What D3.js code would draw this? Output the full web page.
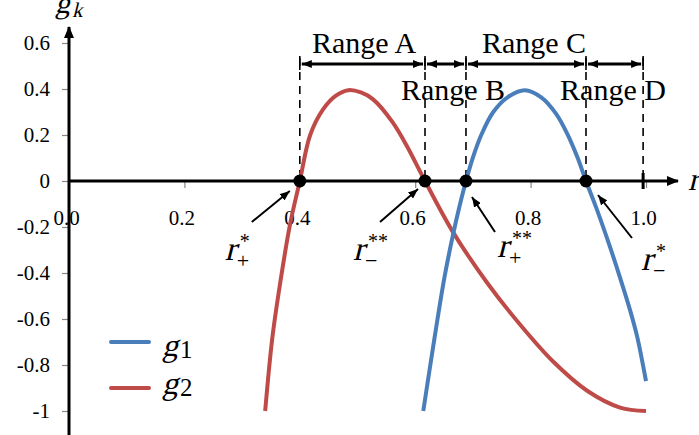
<!DOCTYPE html>
<meta charset="utf-8">
<style>
body { margin: 0; background: #fff; }
.tick line { stroke: #888; stroke-width: 1.2; }
</style>
<body>
<script src="https://d3js.org/d3.v7.min.js"></script>
<script>

// tick labels
var yTicks = [0.6, 0.4, 0.2, 0, -0.2, -0.4, -0.6, -0.8, -1];
var xTicks = [0.0, 0.2, 0.4, 0.6, 0.8, 1.0];

// g1 (blue)
var g1R = [0.614, 0.626, 0.638, 0.651, 0.665, 0.677, 0.688, 0.700, 0.715, 0.735, 0.760, 0.790, 0.819, 0.844, 0.864, 0.881, 0.896, 0.914, 0.937, 0.955, 0.972, 0.985, 1.000];
var g1V = [-1.0, -0.803, -0.611, -0.415, -0.240, -0.108, 0.0, 0.102, 0.203, 0.299, 0.364, 0.395, 0.363, 0.293, 0.203, 0.104, 0.0, -0.118, -0.282, -0.42, -0.558, -0.68, -0.87];

// g2 (red)
var g2R = [0.340, 0.352, 0.365, 0.383, 0.400, 0.418, 0.440, 0.462, 0.484, 0.506, 0.527, 0.561, 0.586, 0.617, 0.665, 0.724, 0.782, 0.839, 0.898, 0.955, 1.000];
var g2V = [-1.0, -0.69, -0.46, -0.19, 0.0, 0.20, 0.31, 0.37, 0.395, 0.385, 0.355, 0.255, 0.15, 0.0, -0.22, -0.44, -0.625, -0.785, -0.912, -0.985, -1.0];

// zero crossings and ranges
var roots = [0.4, 0.617, 0.688, 0.896];
var rangeBounds = [0.4, 0.617, 0.688, 0.896, 0.995];
var rangeNames = ["Range A", "Range B", "Range C", "Range D"];
var rootSub = ["+", "\u2212", "+", "\u2212"];
var rootSup = ["*", "**", "**", "*"];

var w = 699, h = 435;
var blue = "#4a7ebb", red = "#be4b48";
var serif = "Liberation Serif";

var svg = d3.select("body").append("svg")
    .attr("width", w)
    .attr("height", h);

var x = d3.scaleLinear().domain([0, 1]).range([69, 646]);
var y = d3.scaleLinear().domain([-1, 0.6]).range([411, 43]);

// slant the upright serif face for the math letters
function ital(sel, px, py, size, str) {
  return sel.append("text")
      .attr("transform", "translate(" + px + "," + py + ") skewX(-14)")
      .attr("font-family", serif)
      .attr("font-size", size)
      .text(str);
}
function plain(sel, px, py, size, str) {
  return sel.append("text")
      .attr("x", px).attr("y", py)
      .attr("font-family", serif)
      .attr("font-size", size)
      .text(str);
}

var defs = svg.append("defs");
defs.append("marker")
    .attr("id", "head")
    .attr("viewBox", "0 0 10 8")
    .attr("refX", 10).attr("refY", 4)
    .attr("markerWidth", 10).attr("markerHeight", 8)
    .attr("markerUnits", "userSpaceOnUse")
    .attr("orient", "auto-start-reverse")
  .append("path").attr("d", "M0,0L10,4L0,8z").attr("fill", "#000");
defs.append("marker")
    .attr("id", "bighead")
    .attr("viewBox", "0 0 12 10")
    .attr("refX", 11).attr("refY", 5)
    .attr("markerWidth", 12).attr("markerHeight", 10)
    .attr("markerUnits", "userSpaceOnUse")
    .attr("orient", "auto-start-reverse")
  .append("path").attr("d", "M0,0L12,5L0,10z").attr("fill", "#000");

// axes ticks
var yAxis = svg.append("g")
    .attr("transform", "translate(" + x(0) + ",0)")
    .call(d3.axisLeft(y).tickValues(yTicks).tickSize(7).tickPadding(12)
        .tickFormat(function(d) { return String(d); }));
yAxis.select(".domain").remove();
yAxis.attr("font-family", serif).attr("font-size", 21);
yAxis.selectAll(".tick text").attr("fill", "#000");

var xAxis = svg.append("g")
    .attr("transform", "translate(0," + y(0) + ")")
    .call(d3.axisBottom(x).tickValues(xTicks).tickSize(7).tickPadding(22)
        .tickFormat(d3.format(".1f")));
xAxis.select(".domain").remove();
xAxis.attr("font-family", serif).attr("font-size", 21);
xAxis.selectAll(".tick text").attr("fill", "#000").attr("dx", "-3");

// dashed verticals
svg.selectAll("line.dash")
    .data(rangeBounds)
    .enter().append("line")
    .attr("class", "dash")
    .attr("x1", function(d) { return x(d); })
    .attr("x2", function(d) { return x(d); })
    .attr("y1", 58)
    .attr("y2", function(d, i) { return i == rangeBounds.length - 1 ? y(0) + 8 : y(0); })
    .attr("stroke", "#000")
    .attr("stroke-width", 1.6)
    .attr("stroke-dasharray", "8,6");

// curves
var line = d3.line()
    .x(function(d) { return x(d[0]); })
    .y(function(d) { return y(d[1]); })
    .curve(d3.curveCatmullRom.alpha(0.5));

svg.append("path")
    .datum(g2R.map(function(r, i) { return [r, g2V[i]]; }))
    .attr("d", line)
    .attr("fill", "none").attr("stroke", red).attr("stroke-width", 4);
svg.append("path")
    .datum(g1R.map(function(r, i) { return [r, g1V[i]]; }))
    .attr("d", line)
    .attr("fill", "none").attr("stroke", blue).attr("stroke-width", 4);

// axis lines with arrows
svg.append("line")
    .attr("x1", x(0)).attr("y1", h).attr("x2", x(0)).attr("y2", 27)
    .attr("stroke", "#000").attr("stroke-width", 3)
    .attr("marker-end", "url(#bighead)");
svg.append("line")
    .attr("x1", x(0)).attr("y1", y(0)).attr("x2", 678).attr("y2", y(0))
    .attr("stroke", "#000").attr("stroke-width", 3)
    .attr("marker-end", "url(#bighead)");

// thick mark at the end of range D
var lastB = rangeBounds[rangeBounds.length - 1];
svg.append("line")
    .attr("x1", x(lastB)).attr("x2", x(lastB))
    .attr("y1", y(0) - 8).attr("y2", y(0) + 8)
    .attr("stroke", "#000").attr("stroke-width", 3);

// axis titles
ital(svg, 55, 13, 30, "g");
ital(svg, 72, 17, 21, "k");
ital(svg, 688, 190, 32, "r");

// zero dots
svg.selectAll("circle.root")
    .data(roots)
    .enter().append("circle")
    .attr("cx", function(d) { return x(d); })
    .attr("cy", y(0))
    .attr("r", 6.5)
    .attr("fill", "#000");

// range arrows
var arrowY = 64;
rangeNames.forEach(function(name, i) {
  var a = x(rangeBounds[i]), b = x(rangeBounds[i + 1]);
  svg.append("line")
      .attr("x1", a + 2).attr("x2", b - 2)
      .attr("y1", arrowY).attr("y2", arrowY)
      .attr("stroke", "#000").attr("stroke-width", 3)
      .attr("marker-start", "url(#head)")
      .attr("marker-end", "url(#head)");
  svg.append("line")
      .attr("x1", a).attr("x2", a)
      .attr("y1", arrowY - 8).attr("y2", arrowY + 6)
      .attr("stroke", "#000").attr("stroke-width", 1.6);
});
svg.append("line")
    .attr("x1", x(lastB)).attr("x2", x(lastB))
    .attr("y1", arrowY - 8).attr("y2", arrowY + 6)
    .attr("stroke", "#000").attr("stroke-width", 1.6);

var rangeLabelPos = [[364, 53], [453, 100], [534, 53], [613, 100]];
svg.selectAll("text.range")
    .data(rangeNames)
    .enter().append("text")
    .attr("class", "range")
    .attr("x", function(d, i) { return rangeLabelPos[i][0]; })
    .attr("y", function(d, i) { return rangeLabelPos[i][1]; })
    .attr("text-anchor", "middle")
    .attr("font-family", serif)
    .attr("font-size", 30)
    .text(function(d) { return d; });

// root labels with pointer arrows
var rootLabel = [[-75, 79], [-72, 79], [31, 76], [55, 89]];   // r glyph offset from dot
var pointer = [[-48, 41, -10, 10], [-45, 41, -7, 8], [29, 51, 6, 16], [46, 57, 12, 14]];

roots.forEach(function(r, i) {
  var cx = x(r), cy = y(0);
  var p = pointer[i];
  svg.append("line")
      .attr("x1", cx + p[0]).attr("y1", cy + p[1])
      .attr("x2", cx + p[2]).attr("y2", cy + p[3])
      .attr("stroke", "#000").attr("stroke-width", 2)
      .attr("marker-end", "url(#head)");
  var lx = cx + rootLabel[i][0], ly = cy + rootLabel[i][1];
  ital(svg, lx, ly, 34, "r");
  plain(svg, lx + 12, ly + 8, 22, rootSub[i]);
  plain(svg, lx + 15, ly - 12, 20, rootSup[i]);
});

// legend
var legend = [["1", blue, 342, 356], ["2", red, 388, 394]];
legend.forEach(function(d) {
  svg.append("line")
      .attr("x1", 111).attr("x2", 149)
      .attr("y1", d[2]).attr("y2", d[2])
      .attr("stroke", d[1]).attr("stroke-width", 4)
      .attr("stroke-linecap", "round");
  ital(svg, 162, d[3], 32, "g");
  plain(svg, 180, d[3] + 2, 25, d[0]);
});

</script>
</body>
